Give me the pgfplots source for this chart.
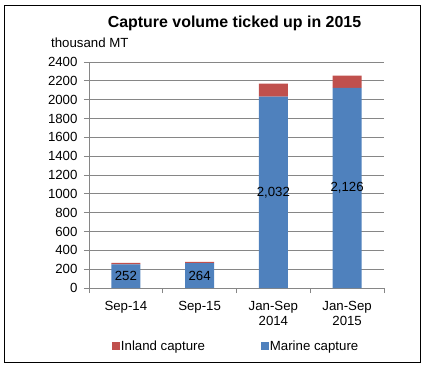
\documentclass[border=0pt]{standalone}
\usepackage{fontspec}
\setmainfont{Liberation Sans}
\usepackage{pgfplots}
\pgfplotsset{compat=1.18}
\definecolor{marine}{HTML}{4F81BD}
\definecolor{inland}{HTML}{C0504D}
\definecolor{gridc}{HTML}{868686}
\begin{document}
\begin{tikzpicture}
\path[use as bounding box] (-89bp,-82bp) rectangle (337bp,288bp);
\draw[black, line width=1bp] (-84bp,-74bp) rectangle (331bp,282bp);
\node[anchor=base, font=\fontsize{16}{18}\selectfont\bfseries] at (145.5bp,260bp) {Capture volume ticked up in 2015};
\node[anchor=base west, inner sep=0pt, font=\fontsize{13.3}{15}\selectfont] at (-38bp,240bp) {thousand MT};
\begin{axis}[
  at={(0,0)}, anchor=south west,
  scale only axis, width=295bp, height=226bp,
  ybar stacked, bar width=29bp,
  xmin=-0.5, xmax=3.5, ymin=0, ymax=2400,
  ytick={0,200,...,2400},
  xtick={-0.5,0.5,1.5,2.5,3.5}, xticklabels={},
  extra x ticks={0,1,2,3},
  extra x tick labels={Sep-14,Sep-15,{Jan-Sep\\2014},{Jan-Sep\\2015}},
  extra x tick style={grid=none, tick style={draw=none}},
  xticklabel style={align=center, yshift=-5bp},
  yticklabel style={xshift=-3bp, /pgf/number format/1000 sep={}},
  axis x line*=bottom, axis y line*=left,
  every inner x axis line/.append style={-},
  every outer x axis line/.append style={-},
  every inner y axis line/.append style={-},
  every outer y axis line/.append style={-},
  axis line style={draw=gridc, line width=0.75bp},
  tick style={draw=gridc, line width=0.75bp},
  tick align=outside, major tick length=5bp,
  ymajorgrids, grid style={draw=gridc, line width=0.75bp},
  tick label style={font=\fontsize{13.3}{14.5}\selectfont},
  /pgf/number format/assume math mode=true,
  reverse legend,
  legend style={draw=none, fill=none, at={(0.067,-0.257)}, anchor=west,
    legend columns=-1, font=\fontsize{13.3}{15}\selectfont,
    nodes={inner sep=1bp},
    /tikz/every even column/.append style={column sep=55bp}},
  legend image code/.code={\fill[#1] (0bp,-4bp) rectangle (8bp,4bp);},
]
\addplot[fill=marine, draw=none,
  nodes near coords={\pgfmathprintnumber[1000 sep={,}]{\pgfplotspointmeta}},
  every node near coord/.append style={anchor=center, black, font=\fontsize{13.3}{15}\selectfont},
] coordinates {(0,252) (1,264) (2,2032) (3,2126)};
\addlegendentry{Marine capture}
\addplot[fill=inland, draw=none] coordinates {(0,14) (1,14) (2,138) (3,128)};
\addlegendentry{Inland capture}
\end{axis}
\end{tikzpicture}
\end{document}
